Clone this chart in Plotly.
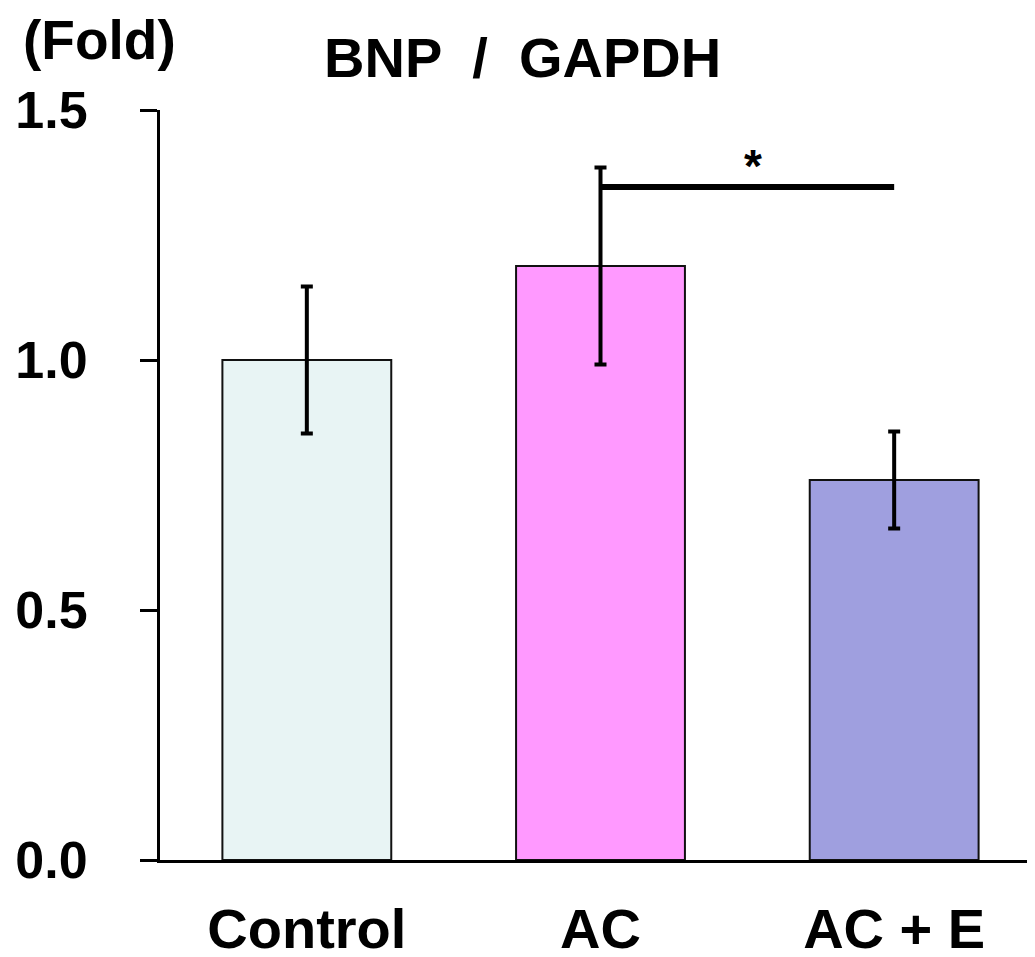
import plotly.graph_objects as go

categories = ["Control", "AC", "AC + E"]
values = [1.0, 1.188, 0.76]
errors = [0.147, 0.197, 0.097]
bar_colors = ["#E8F4F4", "#FF99FF", "#9F9FDF"]
y_ticks = [0.0, 0.5, 1.0, 1.5]
y_tick_labels = ["0.0", "0.5", "1.0", "1.5"]
sig_pair = ["AC", "AC + E"]
sig_y = 1.346
sig_label = "*"

FONT = "Liberation Sans"

fig = go.Figure()
fig.add_trace(go.Bar(
    x=categories, y=values,
    marker=dict(color=bar_colors, line=dict(color="#111111", width=2)),
    width=0.575,
    error_y=dict(type="data", array=errors, visible=True, color="#000000",
                 thickness=4, width=6),
    showlegend=False,
))
fig.add_trace(go.Scatter(
    x=sig_pair, y=[sig_y, sig_y], mode="lines",
    line=dict(color="#000000", width=6), showlegend=False,
))
fig.add_annotation(x=1.52, y=sig_y, xref="x", yref="y", text="<b>%s</b>" % sig_label,
                   showarrow=False, yanchor="bottom", yshift=-7,
                   font=dict(family=FONT, size=46, color="#000000"))
fig.add_annotation(x=-0.158, y=1.049, xref="paper", yref="paper",
                   text="<b>(Fold)</b>", showarrow=False, xanchor="left", yanchor="bottom",
                   font=dict(family=FONT, size=55, color="#000000"))
fig.add_annotation(x=0.412, y=1.025, xref="paper", yref="paper",
                   text="<b>BNP  /  GAPDH</b>", showarrow=False, xanchor="center",
                   yanchor="bottom",
                   font=dict(family=FONT, size=56, color="#000000"))

fig.update_layout(
    width=1033, height=949,
    margin=dict(l=152, r=0, t=102, b=97),
    plot_bgcolor="white", paper_bgcolor="white",
    bargap=0.4,
)
fig.update_xaxes(
    type="category", range=[-0.5, 2.5], automargin=False,
    showline=True, linecolor="#000000", linewidth=3,
    ticks="", showgrid=False, zeroline=False,
    tickfont=dict(family=FONT, size=56, color="#000000"),
    ticklabelstandoff=18,
    tickvals=categories, ticktext=["<b>%s</b>" % c for c in categories],
)
fig.update_yaxes(
    range=[0, 1.5], automargin=False,
    tickvals=y_ticks, ticktext=["<b>%s</b>" % t for t in y_tick_labels],
    showline=True, linecolor="#000000", linewidth=3,
    ticks="outside", ticklen=17, tickwidth=3, tickcolor="#000000",
    showgrid=False, zeroline=False,
    tickfont=dict(family=FONT, size=52, color="#000000"),
    ticklabelstandoff=42,
)

fig.write_html("out.html")
